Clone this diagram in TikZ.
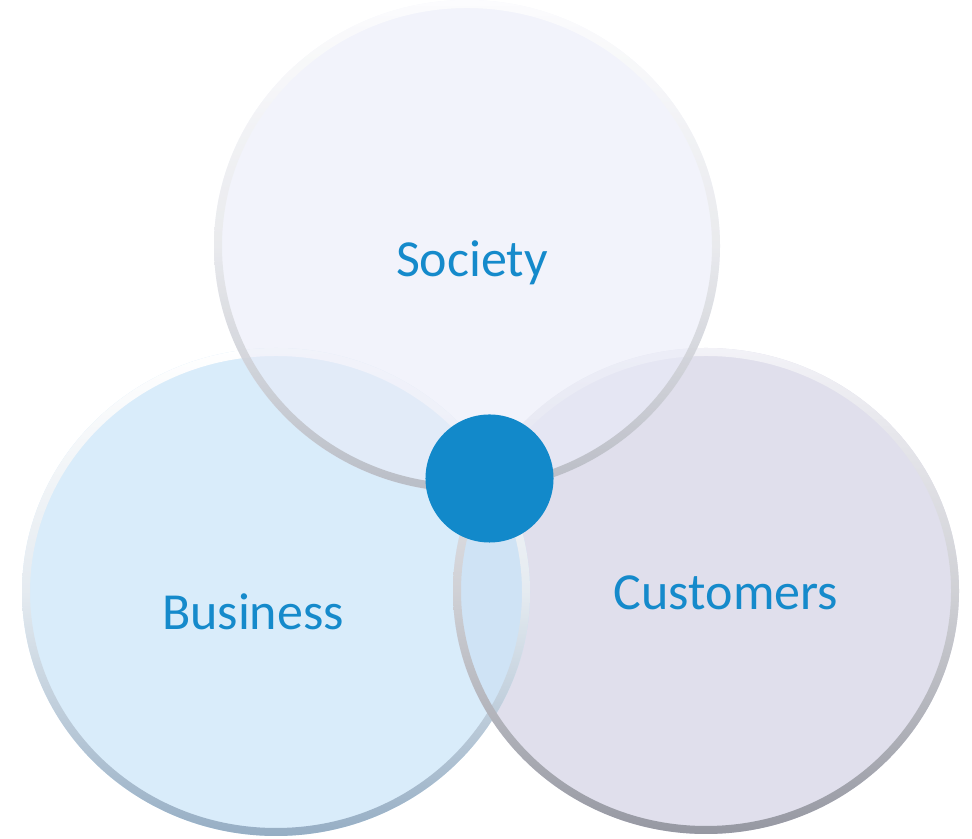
\documentclass[tikz,border=0pt]{standalone}
\usepackage{fontspec}
\setmainfont{Carlito}
\usepackage{tikz}
\usetikzlibrary{shapes,positioning,calc}
\definecolor{societyfill}{RGB}{233,235,248}
\definecolor{businessfill}{RGB}{217,236,250}
\definecolor{customerfill}{RGB}{224,223,236}
\definecolor{lensfill}{RGB}{207,227,245}
\definecolor{coreblue}{RGB}{18,137,202}
\definecolor{labelblue}{RGB}{21,138,203}
\definecolor{businessrim}{RGB}{150,174,196}
\definecolor{customerrim}{RGB}{150,152,162}
\definecolor{societyrim}{RGB}{175,178,186}

\tikzset{
  rim/.style={even odd rule,shading angle=40},
  circletext/.style={anchor=base,text=labelblue,font=\fontsize{37}{44}\selectfont}
}

\begin{document}
\begin{tikzpicture}[x=0.025cm,y=0.025cm]
    \useasboundingbox (0,0) rectangle (972,839);

    % Business and Customers discs
    \fill[businessfill] (276,247) ellipse (254 and 244);
    \fill[customerfill] (706,248) ellipse (253 and 243);
    \begin{scope}
        \clip (276,247) ellipse (254 and 244);
        \fill[lensfill] (706,248) ellipse (253 and 243);
    \end{scope}

    % bevelled rims, light from the upper left
    \shade[rim,top color=white,bottom color=businessrim,middle color=white!75!businessrim]
        (276,247) ellipse (254 and 244) (276,247) ellipse (246 and 236);
    \shade[rim,top color=white!60!customerfill,bottom color=customerrim,middle color=white!55!customerrim]
        (706,248) ellipse (253 and 243) (706,248) ellipse (245 and 235);

    % Society disc sits on top, half see-through
    \fill[societyfill,fill opacity=0.6] (467,593) ellipse (253 and 246);
    \shade[rim,top color=white,bottom color=societyrim,middle color=white!70!societyrim,fill opacity=0.8]
        (467,593) ellipse (253 and 246) (467,593) ellipse (245 and 238);

    % labels
    \node[circletext] (society) at (472,562) {Society};
    \node[circletext] (business) at (253,209) {Business};
    \node[circletext] (customers) at (726,229) {Customers};

    % the common core
    \node[circle,fill=coreblue,inner sep=0pt,minimum size=3.2cm] (core) at (489.5,360.5) {};
\end{tikzpicture}
\end{document}
